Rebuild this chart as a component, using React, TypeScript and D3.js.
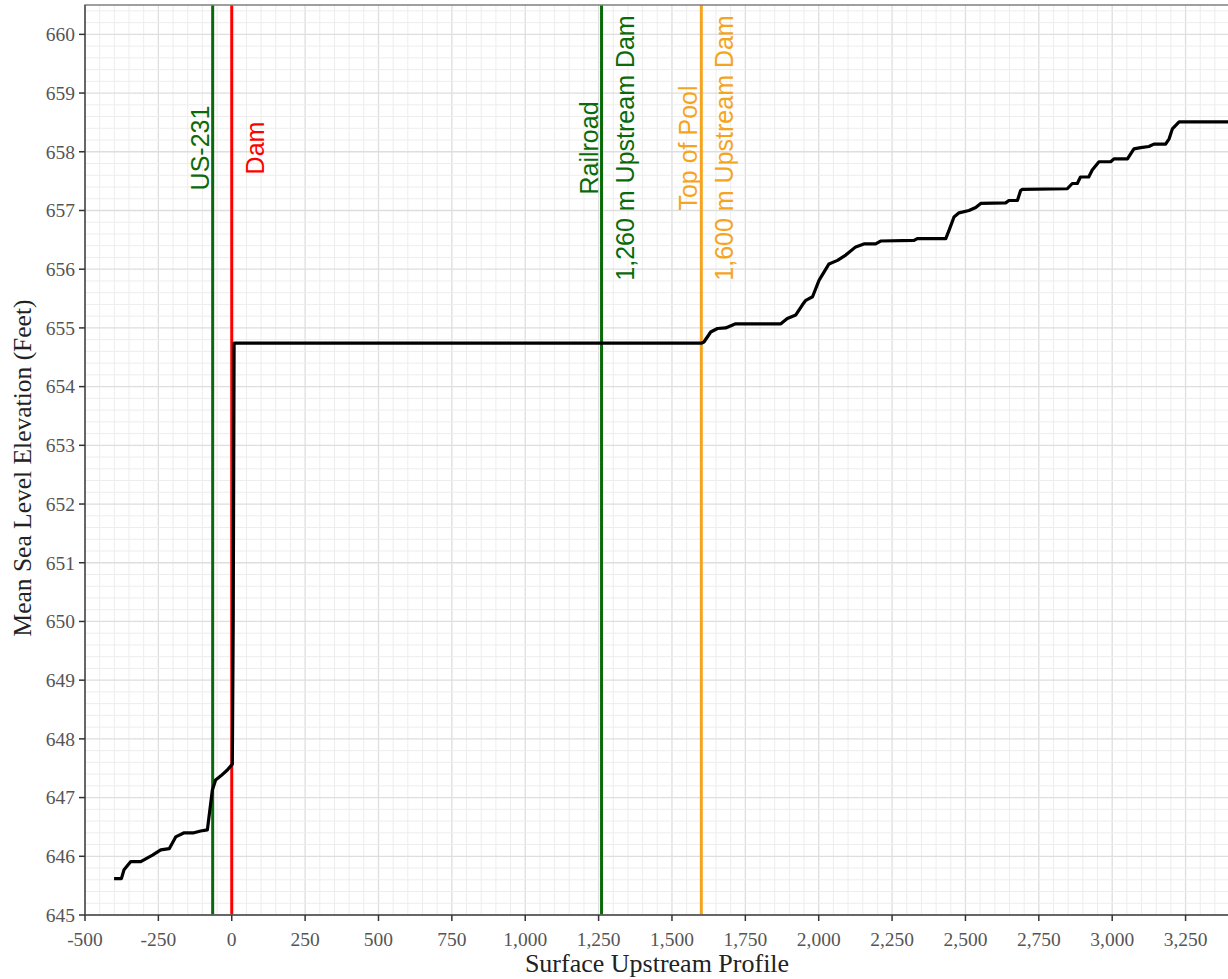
import React from "react";
import * as d3 from "d3";

const profileX = [-401, -376, -367, -344, -310, -270, -242, -213, -191, -162, -129, -106, -83, -66, -55, -37, -15, 2, 5, 8, 1600, 1609, 1632, 1655, 1683, 1717, 1871, 1893, 1922, 1944, 1956, 1979, 2001, 2018, 2035, 2064, 2092, 2126, 2154, 2194, 2211, 2325, 2336, 2433, 2444, 2461, 2478, 2512, 2535, 2552, 2637, 2648, 2677, 2688, 2694, 2847, 2864, 2881, 2892, 2920, 2932, 2955, 2995, 3006, 3052, 3074, 3097, 3125, 3142, 3182, 3194, 3205, 3228, 3420];
const profileY = [645.62, 645.62, 645.77, 645.91, 645.91, 646.02, 646.11, 646.13, 646.33, 646.4, 646.4, 646.43, 646.45, 647.13, 647.3, 647.37, 647.47, 647.57, 650.0, 654.74, 654.74, 654.76, 654.93, 654.99, 655.0, 655.07, 655.07, 655.16, 655.22, 655.39, 655.47, 655.53, 655.81, 655.95, 656.09, 656.15, 656.24, 656.38, 656.43, 656.43, 656.48, 656.49, 656.52, 656.52, 656.66, 656.89, 656.96, 657.0, 657.05, 657.12, 657.13, 657.17, 657.17, 657.34, 657.36, 657.37, 657.46, 657.46, 657.57, 657.57, 657.69, 657.83, 657.83, 657.88, 657.88, 658.05, 658.07, 658.09, 658.13, 658.13, 658.22, 658.39, 658.51, 658.51];

const markerX = [-65, 0, 1260, 1600];
const markerColor = ["#0a6a0a", "#ff0000", "#0a6a0a", "#f5a51d"];
const markerLine1 = ["US-231", "", "Railroad", "Top of Pool"];
const markerLine2 = ["", "Dam", "1,260 m Upstream Dam", "1,600 m Upstream Dam"];

const xTicks = [-500, -250, 0, 250, 500, 750, 1000, 1250, 1500, 1750, 2000, 2250, 2500, 2750, 3000, 3250];
const yTicks = [645, 646, 647, 648, 649, 650, 651, 652, 653, 654, 655, 656, 657, 658, 659, 660];

const W = 1228, H = 979;
const left = 85, right = 1229, top = 5, bottom = 915;

export default function App() {
  const x = d3.scaleLinear().domain([-500, 3398]).range([left, right]);
  const y = d3.scaleLinear().domain([645, 660.5]).range([bottom, top]);
  const fmt = (v: number) => d3.format(",")(v).replace("\u2212", "-");
  const xMinor = d3.range(-500, 3400, 50);
  const yMinor = d3.range(645, 660.51, 0.2);
  const pts: [number, number][] = profileX.map((v, i) => [v, profileY[i]]);
  const line = d3.line<[number, number]>().x(d => x(d[0])).y(d => y(d[1]));
  const serif = "'Liberation Serif', 'DejaVu Serif', serif";
  const sans = "'Liberation Sans', Arial, sans-serif";
  const labelCenterY = 148;
  return (
    <svg width={W} height={H} style={{ position: "absolute", left: 0, top: 0, background: "#fff" }}>
      <defs>
        <clipPath id="panel">
          <rect x={left} y={top} width={right - left} height={bottom - top} />
        </clipPath>
      </defs>
      <rect x={left} y={top} width={right - left} height={bottom - top} fill="#fff" />
      <g clipPath="url(#panel)">
        {xMinor.map(v => (
          <line key={"xm" + v} x1={x(v)} x2={x(v)} y1={top} y2={bottom} stroke={v % 250 === 0 ? "#dedede" : "#ededed"} strokeWidth={v % 250 === 0 ? 1.3 : 1} />
        ))}
        {yMinor.map((v, i) => (
          <line key={"ym" + i} x1={left} x2={right} y1={y(v)} y2={y(v)} stroke={i % 5 === 0 ? "#dedede" : "#ededed"} strokeWidth={i % 5 === 0 ? 1.3 : 1} />
        ))}
        {markerX.map((v, i) => (
          <line key={"mk" + i} x1={x(v)} x2={x(v)} y1={top} y2={bottom} stroke={markerColor[i]} strokeWidth={3} />
        ))}
        <path d={line(pts) || ""} fill="none" stroke="#000" strokeWidth={3.2} strokeLinejoin="round" />
      </g>
      {markerX.map((v, i) => (
        <g key={"lbl" + i} fontFamily={sans} fontSize={25} fill={markerColor[i]} textAnchor="middle">
          {markerLine1[i] && (
            <text transform={`translate(${x(v) - 4},${labelCenterY}) rotate(-90)`}>{markerLine1[i]}</text>
          )}
          {markerLine2[i] && (
            <text transform={`translate(${x(v) + 32},${labelCenterY}) rotate(-90)`}>{markerLine2[i]}</text>
          )}
        </g>
      ))}
      <rect x={left} y={top} width={right - left} height={bottom - top} fill="none" stroke="#808080" strokeWidth={1.5} />
      <line x1={left} x2={left} y1={top} y2={bottom} stroke="#555" strokeWidth={1.5} />
      <line x1={left} x2={right} y1={bottom} y2={bottom} stroke="#555" strokeWidth={1.5} />
      {yTicks.map(v => (
        <g key={"yt" + v}>
          <line x1={left - 6} x2={left} y1={y(v)} y2={y(v)} stroke="#333" strokeWidth={1.5} />
          <text x={left - 10} y={y(v)} dy="0.35em" textAnchor="end" fontFamily={serif} fontSize={19.5} fill="#555">{fmt(v)}</text>
        </g>
      ))}
      {xTicks.map(v => (
        <g key={"xt" + v}>
          <line x1={x(v)} x2={x(v)} y1={bottom} y2={bottom + 6} stroke="#333" strokeWidth={1.5} />
          <text x={x(v)} y={bottom + 31} textAnchor="middle" fontFamily={serif} fontSize={19.5} fill="#555">{fmt(v)}</text>
        </g>
      ))}
      <text x={(left + right) / 2} y={972} textAnchor="middle" fontFamily={serif} fontSize={26} fill="#222">Surface Upstream Profile</text>
      <text transform={`translate(31,468) rotate(-90)`} textAnchor="middle" fontFamily={serif} fontSize={25.5} fill="#222">Mean Sea Level Elevation (Feet)</text>
    </svg>
  );
}
